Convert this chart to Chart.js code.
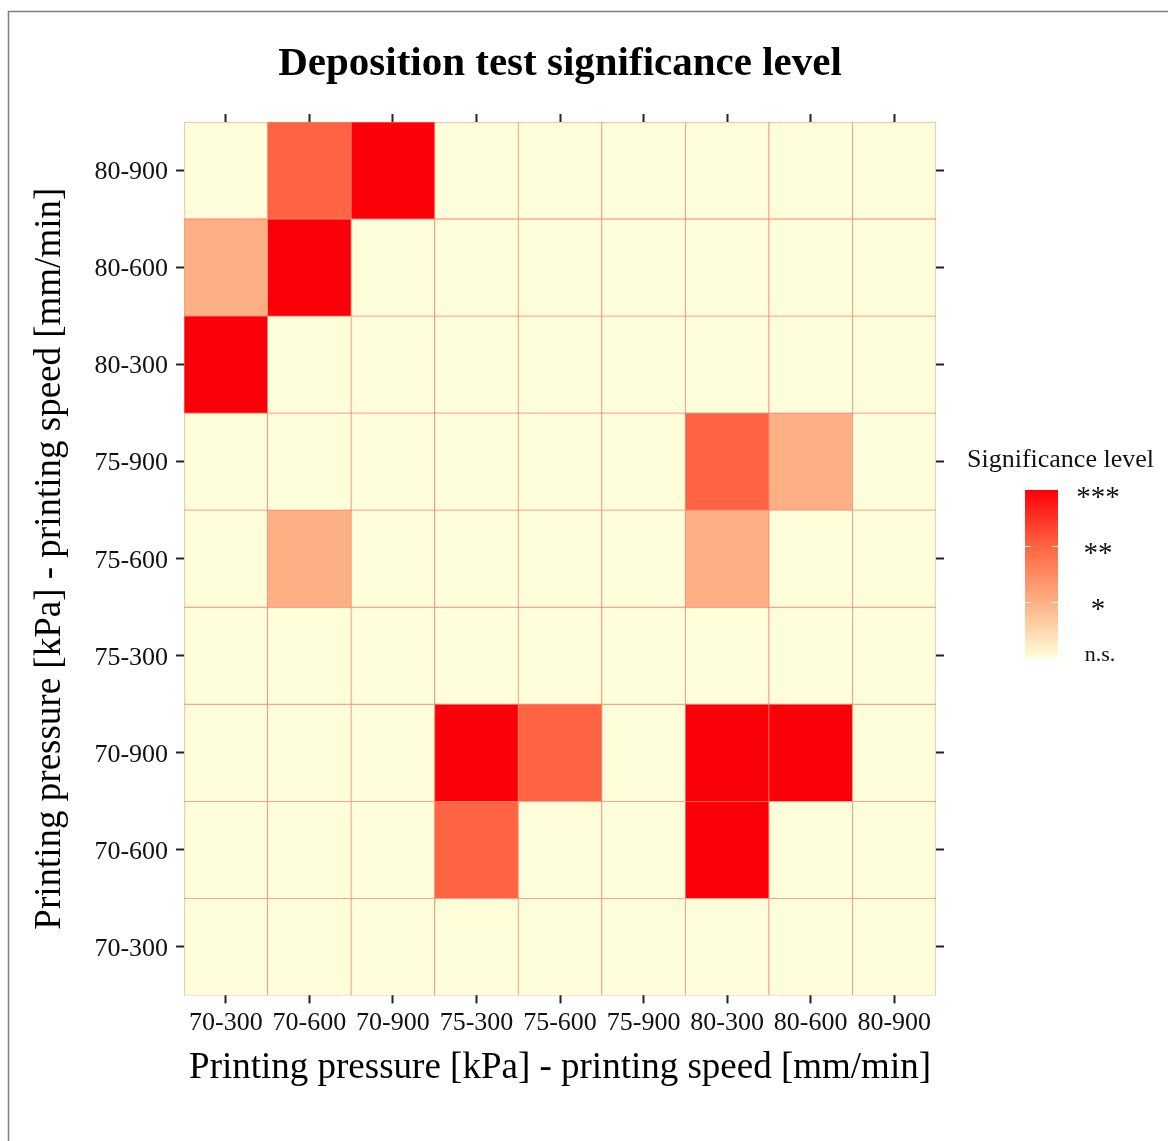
<!DOCTYPE html>
<html>
<head>
<meta charset="utf-8">
<script src="https://cdn.jsdelivr.net/npm/chart.js@4.4.1/dist/chart.umd.min.js"></script>
<style>
  html, body { margin: 0; padding: 0; background: #fff; }
  #wrap { width: 1168px; height: 1141px; position: relative; }
</style>
</head>
<body>
<div id="wrap"><canvas id="heat"></canvas></div>
<script>
// categories (pressure-speed combos), same on both axes
const columns = ["70-300", "70-600", "70-900", "75-300", "75-600", "75-900", "80-300", "80-600", "80-900"];
const rows = ["70-300", "70-600", "70-900", "75-300", "75-600", "75-900", "80-300", "80-600", "80-900"];

// significance level per row (bottom to top), one value per column: 0 = n.s., 1 = *, 2 = **, 3 = ***
const sig_70_300 = [0, 0, 0, 0, 0, 0, 0, 0, 0];
const sig_70_600 = [0, 0, 0, 2, 0, 0, 3, 0, 0];
const sig_70_900 = [0, 0, 0, 3, 2, 0, 3, 3, 0];
const sig_75_300 = [0, 0, 0, 0, 0, 0, 0, 0, 0];
const sig_75_600 = [0, 1, 0, 0, 0, 0, 1, 0, 0];
const sig_75_900 = [0, 0, 0, 0, 0, 0, 2, 1, 0];
const sig_80_300 = [3, 0, 0, 0, 0, 0, 0, 0, 0];
const sig_80_600 = [1, 3, 0, 0, 0, 0, 0, 0, 0];
const sig_80_900 = [0, 2, 3, 0, 0, 0, 0, 0, 0];
const sigRows = [sig_70_300, sig_70_600, sig_70_900, sig_75_300, sig_75_600, sig_75_900, sig_80_300, sig_80_600, sig_80_900];

// legend labels, index = level
const levelLabels = ["n.s.", "*", "**", "***"];
const levelColors = ["#FFFEDA", "#FCB083", "#FF6442", "#FB0008"];

const serif = "'Liberation Serif', 'Times New Roman', serif";

const datasets = sigRows.map((vals, i) => ({
    label: rows[i],
    data: vals.map(() => 1),
    backgroundColor: vals.map(v => levelColors[v]),
    borderColor: "#FF8274",
    borderWidth: 0.75,
    borderSkipped: false,
    barPercentage: 1,
    categoryPercentage: 1,
}));

const centerTicks = (axis) => {
    axis.ticks = rows.map((_, i) => ({ value: i + 0.5 }));
};

const tickGrid = {
    display: true,
    drawOnChartArea: false,
    drawTicks: true,
    tickLength: 8,
    tickColor: "#222",
    tickWidth: 2,
};

// frame lines, title and the colour-bar legend
const decorations = {
    id: "decorations",
    beforeDraw(chart) {
        const ctx = chart.ctx;
        ctx.save();
        ctx.fillStyle = "#fff";
        ctx.fillRect(0, 0, chart.width, chart.height);
        ctx.strokeStyle = "#808080";
        ctx.lineWidth = 1.5;
        ctx.beginPath();
        ctx.moveTo(8.5, chart.height);
        ctx.lineTo(8.5, 11.5);
        ctx.lineTo(chart.width, 11.5);
        ctx.stroke();
        ctx.restore();
    },
    afterDraw(chart) {
        const ctx = chart.ctx;
        const area = chart.chartArea;
        ctx.save();
        ctx.fillStyle = "#000";
        ctx.textAlign = "center";
        ctx.textBaseline = "middle";
        ctx.font = "bold 41px " + serif;
        ctx.fillText("Deposition test significance level", (area.left + area.right) / 2, 64);

        const x0 = 1025, x1 = 1058, yTop = 490, yBot = 658;
        ctx.font = "26px " + serif;
        ctx.fillStyle = "#111";
        ctx.textAlign = "left";
        ctx.fillText("Significance level", 967, 460);

        const grad = ctx.createLinearGradient(0, yBot, 0, yTop);
        levelColors.forEach((c, i) => grad.addColorStop(i / (levelColors.length - 1), c));
        ctx.fillStyle = grad;
        ctx.fillRect(x0, yTop, x1 - x0, yBot - yTop);

        const step = (yBot - yTop) / (levelLabels.length - 1);
        ctx.strokeStyle = "rgba(255,255,255,0.9)";
        ctx.lineWidth = 1;
        for (let i = 1; i < levelLabels.length - 1; i++) {
            const y = Math.round(yBot - i * step) + 0.5;
            ctx.beginPath();
            ctx.moveTo(x0, y); ctx.lineTo(x0 + 6, y);
            ctx.moveTo(x1 - 6, y); ctx.lineTo(x1, y);
            ctx.stroke();
        }

        ctx.fillStyle = "#111";
        ctx.textAlign = "center";
        levelLabels.forEach((lab, i) => {
            const y = yBot - i * step;
            if (i === 0) {
                ctx.font = "22px " + serif;
                ctx.fillText(lab, 1100, y - 3);
            } else {
                ctx.font = "29px " + serif;
                ctx.fillText(lab, 1098, y + 8);
            }
        });
        ctx.restore();
    }
};

new Chart(document.getElementById("heat"), {
    type: "bar",
    data: { labels: columns, datasets: datasets },
    options: {
        responsive: true,
        maintainAspectRatio: false,
        animation: false,
        layout: { padding: { left: 24, right: 224, top: 114, bottom: 45 } },
        plugins: {
            legend: { display: false },
            tooltip: { enabled: false },
            title: { display: false },
        },
        scales: {
            x: {
                type: "category",
                stacked: true,
                position: "bottom",
                offset: true,
                grid: Object.assign({}, tickGrid, { offset: false }),
                border: { display: false },
                ticks: { color: "#111", font: { family: serif, size: 26 }, padding: 4, maxRotation: 0, autoSkip: false },
                title: {
                    display: true,
                    text: "Printing pressure [kPa] - printing speed [mm/min]",
                    color: "#000",
                    font: { family: serif, size: 37 },
                    padding: { top: 3, bottom: 6 },
                },
            },
            xTop: {
                type: "category",
                labels: columns,
                position: "top",
                offset: true,
                grid: Object.assign({}, tickGrid, { offset: false }),
                border: { display: false },
                ticks: { display: false },
            },
            y: {
                type: "linear",
                stacked: true,
                position: "left",
                min: 0,
                max: rows.length,
                afterBuildTicks: centerTicks,
                grid: tickGrid,
                border: { display: false },
                ticks: {
                    color: "#111",
                    font: { family: serif, size: 26 },
                    padding: 8,
                    labelOffset: 2,
                    callback: (v) => rows[Math.floor(v)],
                },
                title: {
                    display: true,
                    text: "Printing pressure [kPa] - printing speed [mm/min]",
                    color: "#000",
                    font: { family: serif, size: 37 },
                    padding: { top: 4, bottom: 14 },
                },
            },
            yRight: {
                type: "linear",
                position: "right",
                min: 0,
                max: rows.length,
                afterBuildTicks: centerTicks,
                grid: tickGrid,
                border: { display: false },
                ticks: { display: false },
            },
        },
    },
    plugins: [decorations],
});
</script>
</body>
</html>
